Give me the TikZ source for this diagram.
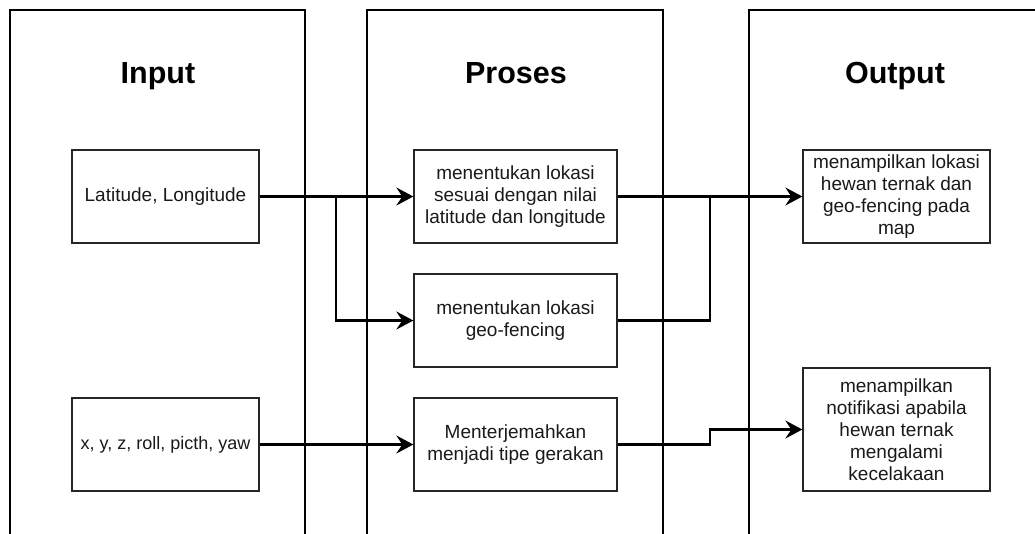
\documentclass[tikz,border=0pt]{standalone}
\usepackage{fontspec}
\setmainfont{Liberation Sans}
\usetikzlibrary{arrows.meta}
\begin{document}
\begin{tikzpicture}[x=1pt,y=-1pt,
  column/.style={draw=black,line width=2.4pt},
  title/.style={anchor=base,font=\bfseries\fontsize{30.5}{36}\selectfont},
  box/.style={draw=black!85,line width=1.3pt,align=center,inner sep=0pt,
    text=black!90,font=\fontsize{19}{22}\selectfont},
  wire/.style={draw=black,line width=2.6pt},
  arr/.style={wire,-{Stealth[length=17pt,width=18pt,inset=6pt]}}]
\useasboundingbox (0,0) rectangle (1035,533);
\clip (0,0) rectangle (1035,533);

% three open-bottom columns
\draw[column] (10,540) -- (10,10) -- (305,10) -- (305,540);
\draw[column] (367,540) -- (367,10) -- (663,10) -- (663,540);
\draw[column] (749,540) -- (749,10) -- (1045,10) -- (1045,540);

\node[title] (tin)  at (158,83) {Input};
\node[title] (tpro) at (516,83) {Proses};
\node[title] (tout) at (895,83) {Output};

% input boxes
\node[box,minimum width=187pt,minimum height=93pt] (lat) at (165.5,196.5) {Latitude, Longitude};
\node[box,minimum width=187pt,minimum height=93pt,font=\fontsize{18}{22}\selectfont] (imu) at (165.5,444.5) {x, y, z, roll, picth, yaw};

% process boxes
\node[box,minimum width=203pt,minimum height=93pt] (loc) at (515.5,196.5)
  {menentukan lokasi\\sesuai dengan nilai\\latitude dan longitude};
\node[box,minimum width=203pt,minimum height=93pt] (geo) at (515.5,320.5)
  {menentukan lokasi\\geo-fencing};
\node[box,minimum width=203pt,minimum height=93pt] (gerak) at (515.5,444.5)
  {Menterjemahkan\\menjadi tipe gerakan};

% output boxes
\node[box,minimum width=187pt,minimum height=93pt] (map) at (896.5,196.5)
  {menampilkan lokasi\\hewan ternak dan\\geo-fencing pada\\map};
\node[box,minimum width=187pt,minimum height=123pt] (notif) at (896.5,429.5)
  {menampilkan\\notifikasi apabila\\hewan ternak\\mengalami\\kecelakaan};

% routing points
\coordinate (split) at (336,196.5);
\coordinate (merge) at (710,196.5);
\coordinate (stepB) at (710,429.5);

% connectors
\draw[arr] (lat.east) -- (loc.west);
\draw[arr] (split) |- (geo.west);
\draw[arr] (imu.east) -- (gerak.west);
\draw[arr] (loc.east) -- (map.west);
\draw[wire] (geo.east) -| (merge);
\draw[arr] (gerak.east) -| (stepB) -- (notif.west);
\end{tikzpicture}
\end{document}
